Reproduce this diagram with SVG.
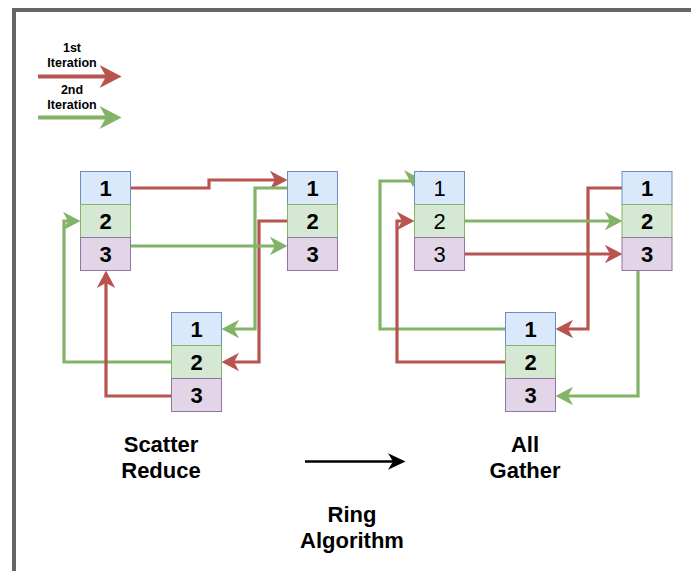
<svg xmlns="http://www.w3.org/2000/svg" width="691" height="571" viewBox="0 0 691 571">
  <style>
    .c1 { fill: #dae8fc; stroke: #6c8ebf; stroke-width: 1; }
    .c2 { fill: #d5e8d4; stroke: #82b366; stroke-width: 1; }
    .c3 { fill: #e1d5e7; stroke: #9673a6; stroke-width: 1; }
    .num { font-family: "Liberation Sans", Arial, sans-serif; font-size: 22px; font-weight: bold; fill: #000; text-anchor: middle; }
    .num.light { font-weight: normal; }
    .lbl { font-family: "Liberation Sans", Arial, sans-serif; font-size: 22px; font-weight: bold; fill: #000; text-anchor: middle; }
    .leg { font-family: "Liberation Sans", Arial, sans-serif; font-size: 12.5px; font-weight: bold; fill: #000; text-anchor: middle; }
    .red { fill: none; stroke: #b85450; stroke-width: 3.2; marker-end: url(#ah-red); }
    .green { fill: none; stroke: #82b366; stroke-width: 3.2; marker-end: url(#ah-green); }
    .leg-red { fill: none; stroke: #b85450; stroke-width: 4; marker-end: url(#ah-red); }
    .leg-green { fill: none; stroke: #82b366; stroke-width: 4; marker-end: url(#ah-green); }
  </style>
  <defs>
    <!-- classic arrowhead; the path end sits at the notch (x=0), the tip is ~4 stroke widths ahead -->
    <marker id="ah-red" markerUnits="strokeWidth" viewBox="-2.5 -4 8 8" markerWidth="8" markerHeight="8" refX="0" refY="0" orient="auto">
      <path d="M-1.6,-2.9 L3.9,0 L-1.6,2.9 L0,0 Z" fill="#b85450"/>
    </marker>
    <marker id="ah-green" markerUnits="strokeWidth" viewBox="-2.5 -4 8 8" markerWidth="8" markerHeight="8" refX="0" refY="0" orient="auto">
      <path d="M-1.6,-2.9 L3.9,0 L-1.6,2.9 L0,0 Z" fill="#82b366"/>
    </marker>
    <marker id="ah-black" markerUnits="strokeWidth" viewBox="-3 -4 10 8" markerWidth="10" markerHeight="8" refX="0" refY="0" orient="auto">
      <path d="M-2,-3.3 L5,0 L-2,3.3 L0,0 Z" fill="#000"/>
    </marker>
  </defs>

  <rect x="0" y="0" width="691" height="571" fill="#fff"/>
  <!-- outer frame -->
  <rect x="14" y="10" width="720" height="620" fill="none" stroke="#666" stroke-width="4"/>

  <!-- legend -->
  <g id="legend">
    <text class="leg" x="72" y="52">1st</text>
    <text class="leg" x="72" y="67">Iteration</text>
    <path class="leg-red" d="M38,76.5 H106"/>
    <text class="leg" x="72" y="94">2nd</text>
    <text class="leg" x="72" y="109">Iteration</text>
    <path class="leg-green" d="M38,117.5 H106"/>
  </g>

  <!-- connectors -->
  <g id="connectors">
    <!-- scatter reduce -->
    <path class="red" d="M130,188 H209 V180 H275"/>
    <path class="green" d="M287,188 H255 V329 H234"/>
    <path class="red" d="M296,221 H259 V362 H234"/>
    <path class="green" d="M130,246 H275"/>
    <path class="green" d="M172,362 H64 V221 H68"/>
    <path class="red" d="M172,396 H106 V283"/>
    <!-- all gather -->
    <path d="M513,329 H380 V181 H412" fill="none" stroke="#82b366" stroke-width="3.2"/>
    <polygon points="404,170 413,175 422,170 413,187" fill="#82b366"/>
    <path class="red" d="M622,188 H588 V329 H568"/>
    <path class="green" d="M465,221 H610"/>
    <path class="red" d="M465,254 H610"/>
    <path class="red" d="M506,362 H397 V221 H402"/>
    <path class="green" d="M638,271 V396 H568"/>
    <!-- ring direction -->
    <path d="M305,461.5 H393" fill="none" stroke="#000" stroke-width="2.5" marker-end="url(#ah-black)"/>
  </g>

  <!-- scatter reduce nodes -->
  <g id="sr-a">
    <rect class="c1" x="80.5" y="171.5" width="50" height="33"/>
    <rect class="c2" x="80.5" y="204.5" width="50" height="33"/>
    <rect class="c3" x="80.5" y="237.5" width="50" height="33"/>
    <text class="num" x="105.5" y="196">1</text>
    <text class="num" x="105.5" y="229">2</text>
    <text class="num" x="105.5" y="262">3</text>
  </g>
  <g id="sr-b">
    <rect class="c1" x="287.5" y="171.5" width="50" height="33"/>
    <rect class="c2" x="287.5" y="204.5" width="50" height="33"/>
    <rect class="c3" x="287.5" y="237.5" width="50" height="33"/>
    <text class="num" x="312.5" y="196">1</text>
    <text class="num" x="312.5" y="229">2</text>
    <text class="num" x="312.5" y="262">3</text>
  </g>
  <g id="sr-c">
    <rect class="c1" x="171.5" y="312.5" width="50" height="33"/>
    <rect class="c2" x="171.5" y="345.5" width="50" height="33"/>
    <rect class="c3" x="171.5" y="378.5" width="50" height="33"/>
    <text class="num" x="196.5" y="337">1</text>
    <text class="num" x="196.5" y="370">2</text>
    <text class="num" x="196.5" y="403">3</text>
  </g>

  <!-- all gather nodes -->
  <g id="ag-a">
    <rect class="c1" x="414.5" y="171.5" width="50" height="33"/>
    <rect class="c2" x="414.5" y="204.5" width="50" height="33"/>
    <rect class="c3" x="414.5" y="237.5" width="50" height="33"/>
    <text class="num light" x="439.5" y="196">1</text>
    <text class="num light" x="439.5" y="229">2</text>
    <text class="num light" x="439.5" y="262">3</text>
  </g>
  <g id="ag-b">
    <rect class="c1" x="622" y="171.5" width="50" height="33"/>
    <rect class="c2" x="622" y="204.5" width="50" height="33"/>
    <rect class="c3" x="622" y="237.5" width="50" height="33"/>
    <text class="num" x="647" y="196">1</text>
    <text class="num" x="647" y="229">2</text>
    <text class="num" x="647" y="262">3</text>
  </g>
  <g id="ag-c">
    <rect class="c1" x="505.5" y="312.5" width="50" height="33"/>
    <rect class="c2" x="505.5" y="345.5" width="50" height="33"/>
    <rect class="c3" x="505.5" y="378.5" width="50" height="33"/>
    <text class="num" x="530.5" y="337">1</text>
    <text class="num" x="530.5" y="370">2</text>
    <text class="num" x="530.5" y="403">3</text>
  </g>

  <!-- captions -->
  <g id="caption-scatter">
    <text class="lbl" x="161" y="452">Scatter</text>
    <text class="lbl" x="161" y="478">Reduce</text>
  </g>
  <g id="caption-gather">
    <text class="lbl" x="525" y="452">All</text>
    <text class="lbl" x="525" y="478">Gather</text>
  </g>
  <g id="caption-ring">
    <text class="lbl" x="352" y="522">Ring</text>
    <text class="lbl" x="352" y="548">Algorithm</text>
  </g>
</svg>
